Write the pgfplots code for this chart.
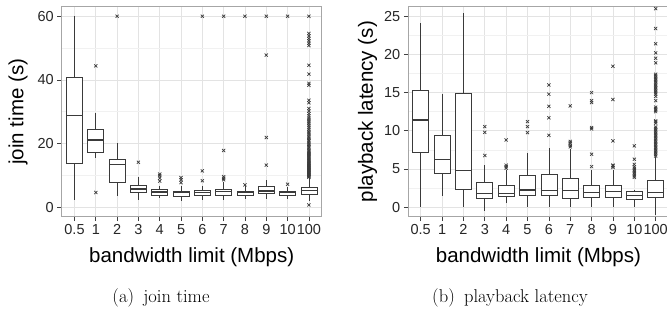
\documentclass[border=0pt]{standalone}
\usepackage{fontspec}
\setsansfont{Liberation Sans}
\usepackage{pgfplots}
\pgfplotsset{compat=1.18}
\usepgfplotslibrary{statistics}
\definecolor{gridmaj}{HTML}{E3E3E3}
\definecolor{gridmin}{HTML}{F1F1F1}
\definecolor{framec}{HTML}{A6A6A6}
\definecolor{boxc}{HTML}{3A3A3A}
\pgfplotsset{
  ggbox/.style={
    /pgf/number format/assume math mode=true,
    scale only axis, anchor=south west,
    width=260pt, height=210pt,
    xmin=-0.6, xmax=11.6,
    xtick={0,...,11},
    xticklabels={0.5,1,2,3,4,5,6,7,8,9,10,100},
    tick align=outside, xtick pos=bottom, ytick pos=left,
    major tick length=4.5pt, minor tick length=0pt,
    major tick style={draw=black!75, line width=0.6pt},
    axis line style={draw=framec, line width=0.6pt},
    xmajorgrids, ymajorgrids, yminorgrids, minor y tick num=1,
    major grid style={draw=gridmaj, line width=0.7pt},
    minor grid style={draw=gridmin, line width=0.5pt},
    tick label style={font=\sffamily\fontsize{14.5}{15}\selectfont, text=black!85},
    label style={font=\sffamily\fontsize{20.5}{22}\selectfont},
    xlabel style={at={(axis description cs:0.5,0)}, anchor=base, yshift=-46pt},
  },
  bstyle/.style={
    draw=boxc, fill=white, line width=0.7pt, solid,
    mark=x, mark size=2.2pt, mark options={draw=boxc, line width=0.7pt, fill=boxc},
    boxplot/draw direction=y,
    boxplot/box extend=0.75, boxplot/whisker extend=0,
    boxplot/every median/.style={line width=1.3pt},
  },
}
\newcommand{\bx}[7]{\addplot[bstyle, boxplot prepared={draw position=#1, lower whisker=#2, lower quartile=#3, median=#4, upper quartile=#5, upper whisker=#6}] coordinates {#7};}
\begin{document}
\begin{tikzpicture}
\useasboundingbox (0,0) rectangle (667pt,320pt);
\clip (0,0) rectangle (667pt,320pt);
% ---------------- join time ----------------
\begin{axis}[ggbox, at={(61.7pt,103.3pt)},
  ymin=-3, ymax=63, ytick={0,20,40,60},
  xlabel={bandwidth limit (Mbps)},
  ylabel={join time (s)},
  ylabel style={at={(axis description cs:-0.147,0.5)}, anchor=base},
]
\bx{0}{2.3}{13.8}{28.8}{40.7}{60}{}
\bx{1}{15.3}{17.2}{21.1}{24.6}{29.5}{(1,44.4) (1,4.6)}
\bx{2}{3.55}{7.95}{13.5}{15.1}{20.3}{(2,60)}
\bx{3}{2.3}{4.7}{5.75}{7.0}{9.6}{(3,14.1)}
\bx{4}{2.8}{3.8}{4.8}{5.7}{6.8}{(4,10.4) (4,9.9) (4,9.1) (4,8.2)}
\bx{5}{2.0}{3.55}{4.6}{5.1}{6.5}{(5,9.3) (5,8.6) (5,7.7)}
\bx{6}{2.3}{3.8}{4.7}{5.3}{6.6}{(6,11.4) (6,8.3) (6,60)}
\bx{7}{2.2}{3.8}{5.0}{5.75}{8.0}{(7,17.8) (7,9.6) (7,9.1) (7,8.6) (7,60)}
\bx{8}{2.5}{3.8}{4.6}{5.1}{6.5}{(8,7.0) (8,60)}
\bx{9}{2.5}{4.2}{5.1}{6.4}{8.6}{(9,13.2) (9,21.9) (9,47.8) (9,60)}
\bx{10}{2.5}{3.65}{4.5}{4.9}{6.2}{(10,7.2) (10,60)}
\bx{11}{1.8}{4.1}{5.3}{6.3}{9.1}{(11,0.7) (11,9.4) (11,9.6) (11,9.8) (11,10.0) (11,10.2) (11,10.4) (11,10.6) (11,10.8) (11,11.0) (11,11.2) (11,11.4) (11,11.6) (11,11.8) (11,12.0) (11,12.2) (11,12.4) (11,12.6) (11,12.8) (11,13.0) (11,13.2) (11,13.4) (11,13.6) (11,13.8) (11,14.0) (11,14.3) (11,14.6) (11,14.9) (11,15.2) (11,15.5) (11,15.8) (11,16.1) (11,16.4) (11,16.7) (11,17.0) (11,17.3) (11,17.6) (11,18.0) (11,18.5) (11,19.0) (11,19.4) (11,19.8) (11,20.3) (11,20.8) (11,21.2) (11,21.7) (11,22.2) (11,22.8) (11,23.3) (11,23.8) (11,24.4) (11,25.0) (11,25.6) (11,26.2) (11,26.8) (11,27.4) (11,28.0) (11,28.7) (11,29.4) (11,30.2) (11,31.0) (11,32.8) (11,33.6) (11,38.3) (11,38.9) (11,41.8) (11,44.6) (11,50.8) (11,51.5) (11,52.3) (11,53.0) (11,53.8) (11,54.6) (11,60)}
\end{axis}
% ---------------- playback latency ----------------
\begin{axis}[ggbox, at={(408.3pt,103.3pt)}, width=260.2pt,
  xmin=-0.58, xmax=11.6,
  ymin=-1.25, ymax=26.25, ytick={0,5,10,15,20,25},
  xlabel={bandwidth limit (Mbps)},
  ylabel={playback latency (s)},
  ylabel style={at={(axis description cs:-0.1357,0.5)}, anchor=base},
]
\bx{0}{0}{7.24}{11.4}{15.3}{24.1}{}
\bx{1}{1.52}{4.45}{6.28}{9.46}{14.8}{}
\bx{2}{0}{2.36}{4.84}{14.9}{25.4}{}
\bx{3}{-0.48}{1.13}{1.83}{3.22}{5.5}{(3,10.55) (3,9.8) (3,6.76)}
\bx{4}{0.52}{1.39}{1.83}{2.88}{4.9}{(4,8.8) (4,5.5) (4,5.3) (4,5.1)}
\bx{5}{0}{1.48}{2.26}{4.19}{7.07}{(5,11.2) (5,10.55) (5,9.77)}
\bx{6}{0}{1.48}{2.17}{4.27}{7.72}{(6,16.0) (6,14.8) (6,13.2) (6,11.7) (6,9.4)}
\bx{7}{0}{1.13}{2.17}{3.75}{7.6}{(7,13.26) (7,8.6) (7,8.4) (7,8.1) (7,7.9)}
\bx{8}{0}{1.31}{1.91}{2.92}{4.88}{(8,15.0) (8,13.95) (8,13.7) (8,10.42) (8,10.25) (8,6.93) (8,5.31)}
\bx{9}{0}{1.31}{2.04}{2.88}{4.88}{(9,18.45) (9,14.1) (9,8.68) (9,5.5) (9,5.4) (9,5.2)}
\bx{10}{0}{1.05}{1.57}{2.13}{2.26}{(10,8.02) (10,6.28) (10,5.6) (10,5.3) (10,5.1) (10,4.9) (10,4.7) (10,4.5) (10,4.3) (10,4.1) (10,3.9)}
\bx{11}{-1.0}{1.31}{1.91}{3.53}{6.62}{(11,26.0) (11,23.4) (11,21.4) (11,20.2) (11,19.5) (11,18.9) (11,17.4) (11,17.2) (11,17.0) (11,16.8) (11,16.6) (11,16.4) (11,16.2) (11,16.0) (11,15.8) (11,15.6) (11,15.4) (11,15.2) (11,15.0) (11,14.8) (11,14.5) (11,13.95) (11,13.1) (11,12.9) (11,12.7) (11,12.5) (11,11.3) (11,11.2) (11,11.0) (11,10.5) (11,10.3) (11,10.1) (11,9.9) (11,9.7) (11,9.5) (11,9.3) (11,9.1) (11,8.9) (11,8.7) (11,8.5) (11,8.3) (11,8.1) (11,7.9) (11,7.7) (11,7.5) (11,7.3) (11,7.1) (11,6.9) (11,6.7)}
\end{axis}
% ---------------- sub-captions ----------------
\node[font=\rmfamily\fontsize{18.5}{20}\selectfont, anchor=base] at (161pt,17pt) {(a)\hspace{0.5em}join time};
\node[font=\rmfamily\fontsize{18.5}{20}\selectfont, anchor=base] at (510pt,17pt) {(b)\hspace{0.5em}playback latency};
\end{tikzpicture}
\end{document}
